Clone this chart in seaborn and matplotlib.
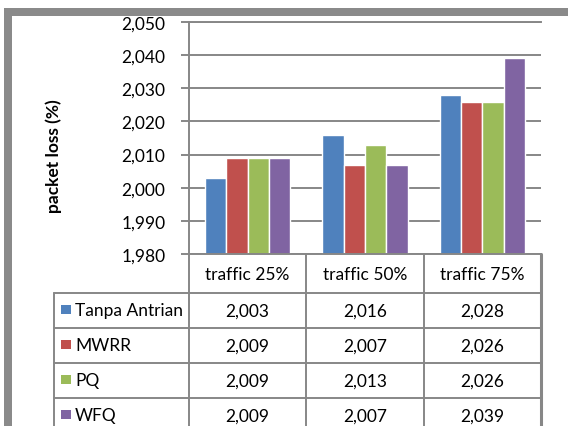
import matplotlib
matplotlib.use("Agg")
import matplotlib.pyplot as plt
import seaborn as sns
import pandas as pd
from matplotlib.patches import Rectangle
from matplotlib.ticker import FuncFormatter, MultipleLocator

categories = ["traffic 25%", "traffic 50%", "traffic 75%"]
series = ["Tanpa Antrian", "MWRR", "PQ", "WFQ"]
tanpa_antrian = [2.003, 2.016, 2.028]
mwrr = [2.009, 2.007, 2.026]
pq = [2.009, 2.013, 2.026]
wfq = [2.009, 2.007, 2.039]
colors = ["#4F81BD", "#C0504D", "#9BBB59", "#8064A2"]
y_label = "packet loss (%)"

sns.set_theme(style="white")
plt.rcParams["font.family"] = ["Lato", "DejaVu Sans"]

values = [tanpa_antrian, mwrr, pq, wfq]
rows = []
for s, vals in zip(series, values):
    for c, v in zip(categories, vals):
        rows.append({"category": c, "series": s, "value": v})
df = pd.DataFrame(rows)

W, H = 568, 427
fig = plt.figure(figsize=(W / 100, H / 100), dpi=100)


def fx(px):
    return px / W


def fy(py):
    return 1 - py / H


GRID = "#878787"
FS = 12.5
fmt = lambda v: f"{v:.3f}".replace(".", ",")

# --- chart axes ---
ax = fig.add_axes([fx(189), fy(255), fx(541) - fx(189), fy(23) - fy(255)])
sns.barplot(data=df, x="category", y="value", hue="series", order=categories,
            hue_order=series, palette=colors, saturation=1, width=0.725,
            errorbar=None, legend=False, ax=ax)
ax.set_ylim(1.98, 2.05)
ax.yaxis.set_major_locator(MultipleLocator(0.01))
ax.yaxis.set_major_formatter(FuncFormatter(lambda v, p: fmt(v)))
ax.yaxis.grid(True, color=GRID, lw=1.4)
ax.set_axisbelow(True)
ax.set_xlabel("")
ax.set_ylabel("")
ax.set_xticks([])
for side in ["left", "top", "bottom"]:
    ax.spines[side].set_visible(True)
    ax.spines[side].set_color(GRID)
    ax.spines[side].set_linewidth(1.4)
ax.spines["right"].set_visible(False)
ax.tick_params(axis="y", direction="out", length=6, width=1.4, color=GRID,
               labelsize=FS, pad=11, left=True, labelcolor="black")
for t in ax.get_yticklabels():
    t.set_fontsize(FS)

fig.text(fx(54), fy(156), y_label, rotation=90, fontweight="bold",
         ha="center", va="center", fontsize=FS, color="black")

# --- data table axes ---
px_per_cat = (541 - 189) / 3
xmin = -0.5 - (189 - 54) / px_per_cat
tax = fig.add_axes([fx(54), fy(434), fx(541) - fx(54), fy(255) - fy(434)])
tax.set_xlim(xmin, 2.5)
tax.set_ylim(5.1, 0)
tax.axis("off")

lw = 1.4
for y in [1.1, 2.1, 3.1, 4.1, 5.1]:
    tax.plot([xmin, 2.5], [y, y], color=GRID, lw=lw, clip_on=False)
tax.plot([xmin, xmin], [1.1, 5.1], color=GRID, lw=lw, clip_on=False)
for x in [-0.5, 0.5, 1.5]:
    tax.plot([x, x], [0, 5.1], color=GRID, lw=lw, clip_on=False)
tax.plot([2.5, 2.5], [0, 5.1], color=GRID, lw=2.2, clip_on=False)

for i, c in enumerate(categories):
    tax.text(i, 0.58, c, ha="center", va="center", fontsize=FS, color="black")

sq_w = 9.5 / px_per_cat
sq_h = 9.5 / 35.1
for r, (s, vals, col) in enumerate(zip(series, values, colors)):
    yc = 1.6 + r
    tax.add_patch(Rectangle((xmin + 7 / px_per_cat, yc - sq_h / 2 - 0.02), sq_w, sq_h,
                            facecolor=col, edgecolor="none", clip_on=False))
    tax.text(xmin + 21 / px_per_cat, yc, s, ha="left", va="center",
             fontsize=FS, color="black")
    for i, v in enumerate(vals):
        tax.text(i, yc, fmt(v), ha="center", va="center", fontsize=FS,
                 color="black")

# outer chart frame
fig.add_artist(Rectangle((fx(8), -0.5), 2, fy(13) + 0.5, transform=fig.transFigure,
                         fill=False, edgecolor="#8a8a8a", lw=8 * 0.72))

fig.savefig("out.png", dpi=100)
